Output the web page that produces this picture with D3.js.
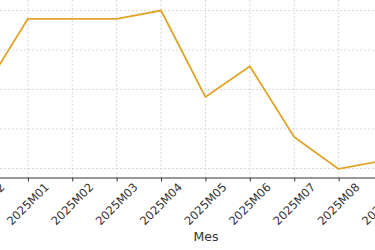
<!DOCTYPE html>
<html><head><meta charset="utf-8">
<script src="https://cdn.jsdelivr.net/npm/d3@7"></script>
<style>body{margin:0;background:#fff}svg{display:block}</style>
</head><body>
<svg id="c" width="375" height="250"></svg>
<script>
const months = ["2024M12","2025M01","2025M02","2025M03","2025M04","2025M05","2025M06","2025M07","2025M08","2025M09"];
const values = [79.7, 97.9, 97.9, 97.9, 100.0, 78.1, 85.9, 68.0, 59.9, 62.0];
const yTicks = [60, 70, 80, 90, 100];
const xTitle = "Mes";

const svg = d3.select("#c");
const x = d3.scalePoint().domain(months).range([-16.5, 383]);
const y = d3.scaleLinear().domain([60, 100]).range([168.5, 10.5]);
const axisY = 178;

const grid = svg.append("g").attr("stroke", "#d4d4d4").attr("stroke-width", 0.9).attr("stroke-dasharray", "2,2");
grid.selectAll("line.h").data(yTicks).join("line").attr("class","h")
  .attr("x1", 0).attr("x2", 375).attr("y1", d => y(d)).attr("y2", d => y(d));
grid.selectAll("line.v").data(months).join("line").attr("class","v")
  .attr("x1", d => x(d)).attr("x2", d => x(d)).attr("y1", 0).attr("y2", axisY);

const ax = svg.append("g").attr("transform", `translate(0,${axisY})`)
  .call(d3.axisBottom(x).tickSize(3.5).tickPadding(0));
ax.select(".domain").attr("stroke", "#333").attr("stroke-width", 1.2).attr("d", "M-20,0H400");
ax.selectAll(".tick line").attr("stroke", "#333").attr("stroke-width", 1);
ax.selectAll(".tick text").remove();

svg.append("g").selectAll("text").data(months).join("text")
  .attr("transform", d => `translate(${x(d)},204) rotate(-45)`)
  .attr("text-anchor", "middle").attr("dominant-baseline", "central")
  .attr("font-family", "DejaVu Sans").attr("font-size", 11.5).attr("fill", "#333")
  .text(d => d);

svg.append("text").attr("x", 206).attr("y", 241).attr("text-anchor", "middle")
  .attr("font-family", "DejaVu Sans").attr("font-size", 12.5).attr("fill", "#333").text(xTitle);

svg.append("path").datum(values.map((v,i)=>[months[i], v]))
  .attr("fill", "none").attr("stroke", "#E0A52B").attr("stroke-width", 1.8)
  .attr("stroke-linejoin", "round")
  .attr("d", d3.line().x(d => x(d[0])).y(d => y(d[1])));
</script>
</body></html>
